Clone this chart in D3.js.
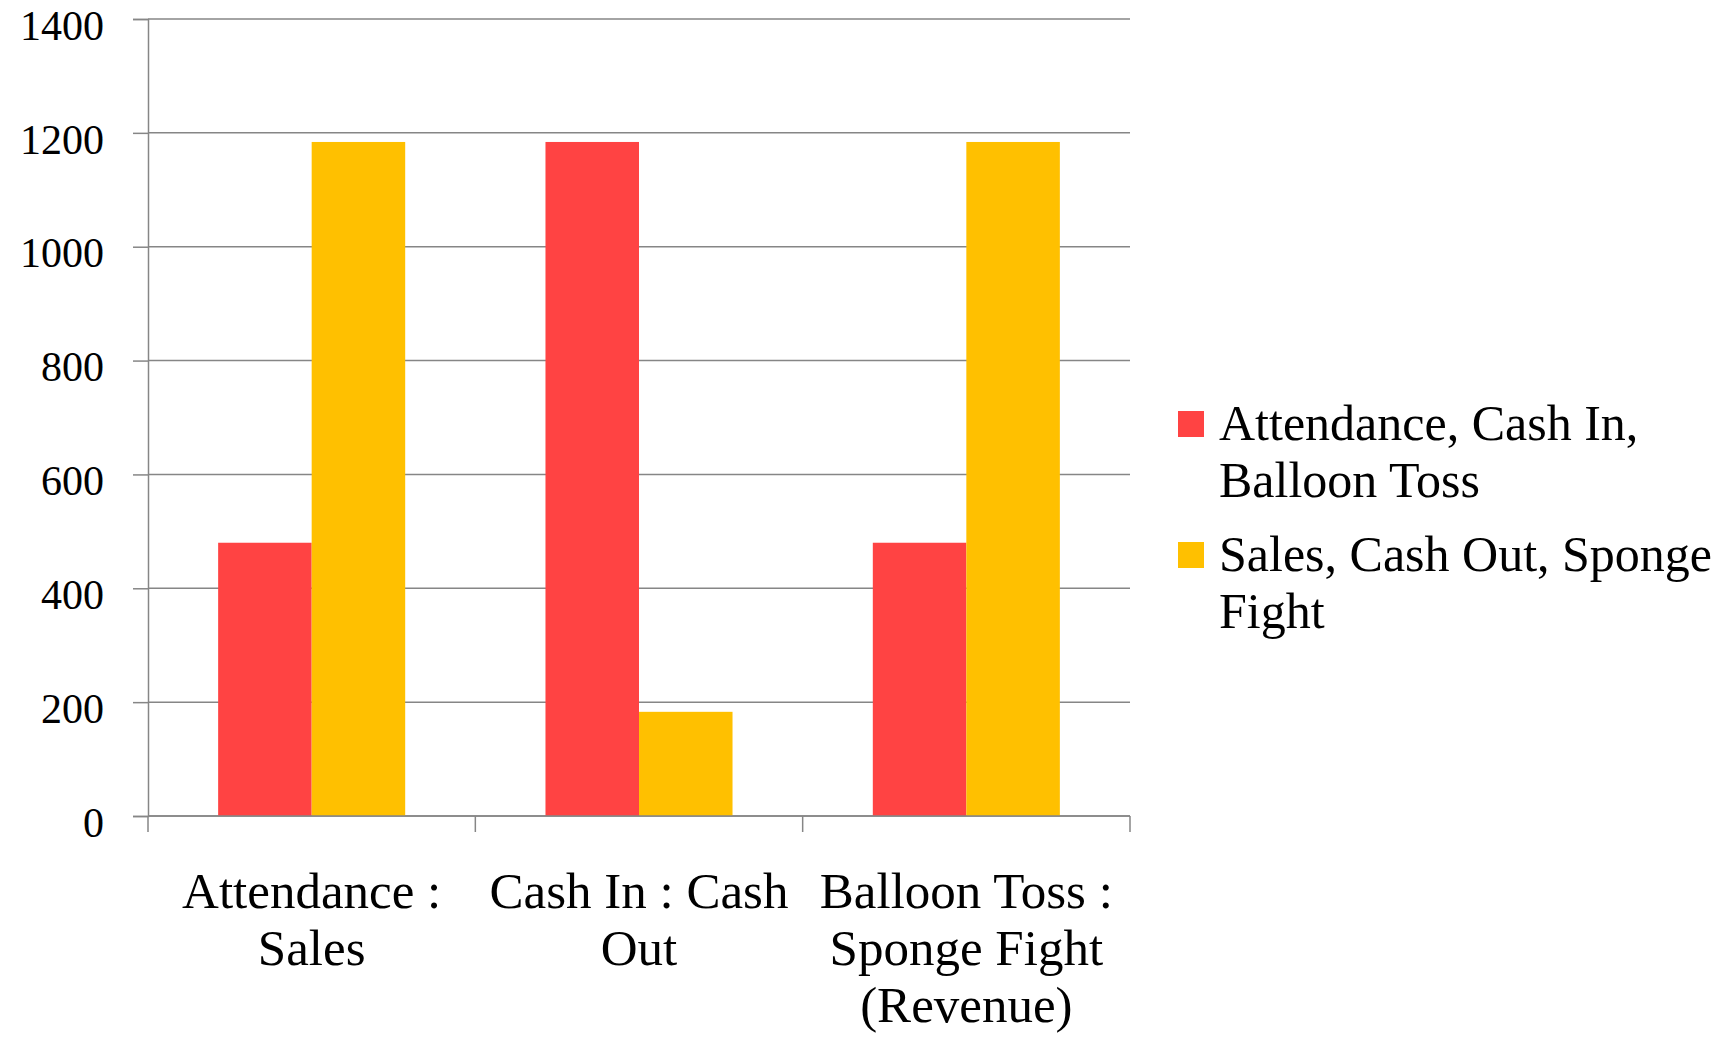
<!DOCTYPE html>
<html>
<head>
<meta charset="utf-8">
<script src="https://cdn.jsdelivr.net/npm/d3@7"></script>
<style>
  body { margin: 0; background: #fff; }
  text { font-family: "Liberation Serif", "DejaVu Serif", serif; fill: #000; }
</style>
</head>
<body>
<div id="chart"></div>
<script>
// DATA
const categories = [
    ['Attendance :', 'Sales'],
    ['Cash In : Cash', 'Out'],
    ['Balloon Toss :', 'Sponge Fight', '(Revenue)']
];
const seriesNames = [
    ['Attendance, Cash In,', 'Balloon Toss'],
    ['Sales, Cash Out, Sponge', 'Fight']
];
const seriesA = [480, 1184, 480];
const seriesB = [1184, 183, 1184];
const yTicks = [0, 200, 400, 600, 800, 1000, 1200, 1400];
const colors = ['#FF4343', '#FFC000'];

// DIMENSIONS
const width = 1720;
const height = 1037;
const plotLeft = 148;
const plotRight = 1130;
const plotTop = 19;
const plotBottom = 816;

const svg = d3.select('#chart')
    .append('svg')
    .attr('width', width)
    .attr('height', height);

// SCALES
const x = d3.scaleBand()
    .domain(d3.range(categories.length))
    .range([plotLeft, plotRight]);

const xInner = d3.scaleBand()
    .domain([0, 1])
    .range([0, x.bandwidth()])
    .paddingOuter(0.75);

const y = d3.scaleLinear()
    .domain([0, 1400])
    .range([plotBottom, plotTop]);

// GRIDLINES
svg.append('g')
    .selectAll('line')
    .data(yTicks)
    .join('line')
    .attr('x1', plotLeft)
    .attr('x2', plotRight)
    .attr('y1', d => y(d))
    .attr('y2', d => y(d))
    .attr('stroke', '#868686')
    .attr('stroke-width', 1.5);

// Y AXIS
const yAxis = svg.append('g')
    .attr('transform', `translate(${plotLeft},0)`)
    .call(d3.axisLeft(y).tickValues(yTicks).tickFormat(d3.format('d')).tickSize(15).tickPadding(29));

yAxis.select('.domain').attr('stroke', '#868686').attr('stroke-width', 1.5);
yAxis.selectAll('.tick line').attr('stroke', '#868686').attr('stroke-width', 1.5);
yAxis.selectAll('.tick text')
    .style('font-size', '42px')
    .style('font-family', '"Liberation Serif", serif')
    .attr('fill', '#000')
    .attr('dy', '0.48em');

// BARS
const rows = categories.map((c, i) => [seriesA[i], seriesB[i]]);

const groups = svg.append('g')
    .selectAll('g')
    .data(rows)
    .join('g')
    .attr('transform', (d, i) => `translate(${x(i)},0)`);

groups.selectAll('rect')
    .data(d => d)
    .join('rect')
    .attr('x', (d, j) => xInner(j))
    .attr('width', xInner.bandwidth())
    .attr('y', d => y(d))
    .attr('height', d => plotBottom - y(d))
    .attr('fill', (d, j) => colors[j]);

// X AXIS LINE + TICKS
svg.append('line')
    .attr('x1', plotLeft).attr('x2', plotRight)
    .attr('y1', plotBottom).attr('y2', plotBottom)
    .attr('stroke', '#868686').attr('stroke-width', 1.5);

const edges = d3.range(categories.length + 1).map(i => i < categories.length ? x(i) : plotRight);

svg.append('g')
    .selectAll('line')
    .data(edges)
    .join('line')
    .attr('x1', d => d).attr('x2', d => d)
    .attr('y1', plotBottom).attr('y2', plotBottom + 16)
    .attr('stroke', '#868686').attr('stroke-width', 1.5);

// X LABELS
const xText = svg.append('g')
    .selectAll('text')
    .data(categories)
    .join('text')
    .attr('text-anchor', 'middle')
    .style('font-size', '51px')
    .attr('transform', (d, i) => `translate(${x(i) + x.bandwidth() / 2},908)`);

xText.selectAll('tspan')
    .data(d => d)
    .join('tspan')
    .attr('x', 0)
    .attr('y', (d, k) => k * 57)
    .text(d => d);

// LEGEND
const legend = svg.append('g')
    .selectAll('g')
    .data(seriesNames)
    .join('g')
    .attr('transform', (d, i) => `translate(1178,${440 + i * 131})`);

legend.append('rect')
    .attr('y', -29)
    .attr('width', 26)
    .attr('height', 26)
    .attr('fill', (d, i) => colors[i]);

const legendText = legend.append('text')
    .style('font-size', '50px');

legendText.selectAll('tspan')
    .data(d => d)
    .join('tspan')
    .attr('x', 41)
    .attr('y', (d, k) => k * 57)
    .text(d => d);
</script>
</body>
</html>
